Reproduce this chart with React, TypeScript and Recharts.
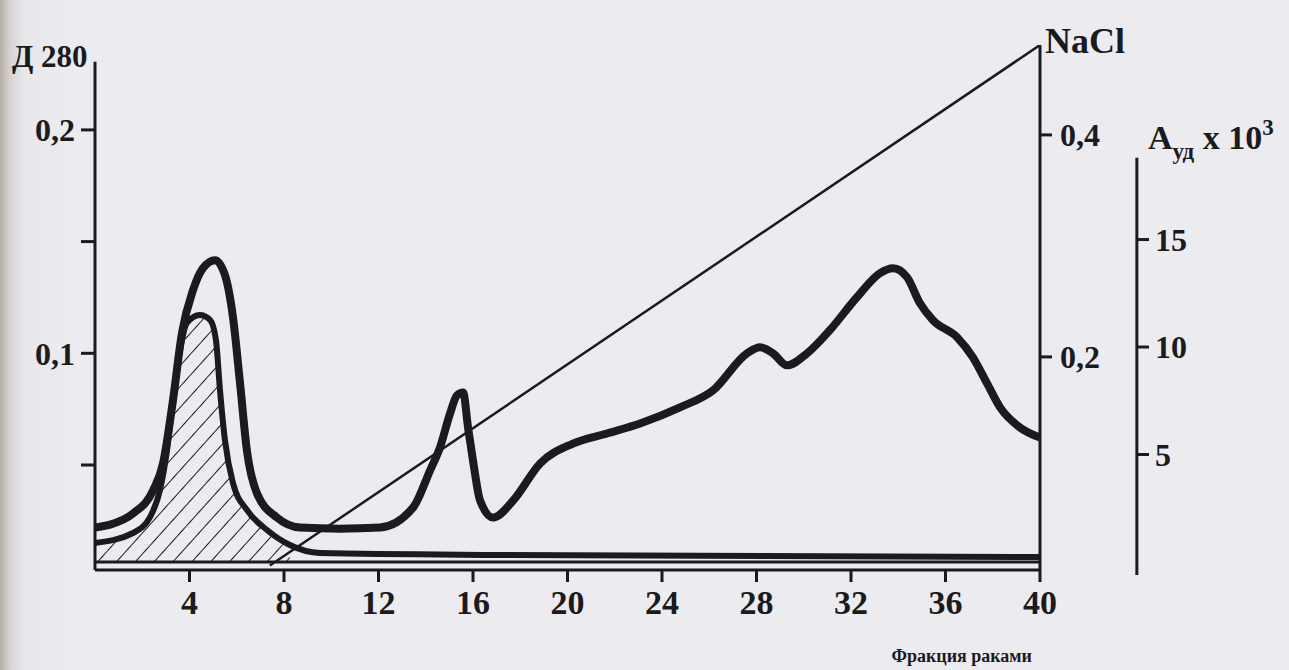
import { ComposedChart, Line, Area, XAxis, YAxis, ReferenceLine } from 'recharts';

// fraction numbers on the x axis
const fractionTicks = [4, 8, 12, 16, 20, 24, 28, 32, 36, 40];

// Д280 (protein) profile
const d280Fractions = [
  0, 0.63, 1.61, 2.46, 2.88, 3.3, 3.68, 4.15, 4.57, 5.08, 5.5, 5.84, 6.14, 6.43, 6.86, 7.7, 8.68,
  10.37, 12.06, 13.46, 14.18, 14.6, 15.03, 15.32, 15.58, 15.79, 16.0, 16.3, 16.85, 17.7, 18.84,
  20.23, 21.67, 23.07, 24.76, 26.16, 27.6, 28.15, 28.7, 29.29, 30.14, 31.1, 32.25, 33.23, 33.78,
  34.37, 34.92, 35.47, 36.49, 37.16, 37.76, 38.31, 39.15, 40,
];
const d280Values = [
  0.022, 0.0233, 0.0283, 0.0386, 0.0507, 0.0789, 0.109, 0.1283, 0.1381, 0.1417, 0.135, 0.1161,
  0.0865, 0.0565, 0.0372, 0.0265, 0.022, 0.0215, 0.022, 0.0309, 0.0475, 0.0578, 0.0731, 0.0812,
  0.0825, 0.0668, 0.052, 0.0341, 0.0265, 0.0341, 0.0507, 0.0596, 0.0641, 0.0686, 0.0758, 0.0834,
  0.1, 0.1027, 0.1, 0.0946, 0.1, 0.1103, 0.1251, 0.1359, 0.1381, 0.1341, 0.1224, 0.1148, 0.1072,
  0.0982, 0.0865, 0.0758, 0.0668, 0.0623,
];
const d280Ticks = [0.05, 0.1, 0.15, 0.2];
const d280TickLabels = ['', '0,1', '', '0,2'];

// specific activity, A x 10^3
const activityFractions = [0, 1.61, 2.33, 2.75, 3.05, 3.3, 3.6, 3.89, 4.44, 4.87, 5.12, 5.29, 5.5, 5.84, 6.43, 7.28, 8.25, 9.52, 17.14, 40];
const activityValues = [0.88, 1.35, 2.09, 3.35, 5.21, 7.53, 9.86, 11.12, 11.49, 11.26, 10.33, 8.0, 5.67, 3.67, 2.42, 1.49, 0.79, 0.42, 0.33, 0.23];
const activityTicks = [5, 10, 15];
const hatchUpTo = 9.5;

// NaCl gradient
const naclFractions = [7.4, 40];
const naclValues = [0.012, 0.481];
const naclTicks = [0.2, 0.4];
const naclTickLabels = ['0,2', '0,4'];

const zip = (fs: number[], vs: number[]) => fs.map((f, i) => ({ f, v: vs[i] }));
const d280Data = zip(d280Fractions, d280Values);
const activityData = zip(activityFractions, activityValues);
const hatchData = activityData.filter((p) => p.f <= hatchUpTo);
const naclData = zip(naclFractions, naclValues);

const INK = '#1b1b1d';
const SERIF = '"Liberation Serif", "Times New Roman", serif';
const tickFont = { fontFamily: SERIF, fontWeight: 700, fontSize: 32, fill: INK };
const xTickFont = { ...tickFont, fontSize: 34 };
const axisStroke = { stroke: INK, strokeWidth: 3 };

const D280Title = ({ viewBox }: any) => (
  <text x={viewBox.x + 12} y={viewBox.y + 22} fontFamily={SERIF} fontWeight={700} fontSize={31} fill={INK}>
    Д 280
  </text>
);

const NaclTitle = ({ viewBox }: any) => (
  <text x={viewBox.x + 5} y={viewBox.y + 8} fontFamily={SERIF} fontWeight={700} fontSize={36} fill={INK}>
    NaCl
  </text>
);

const ActivityTitle = ({ viewBox }: any) => (
  <text x={viewBox.x + 11} y={viewBox.y + 104} fontFamily={SERIF} fontWeight={700} fontSize={34} fill={INK}>
    A
    <tspan dy={10} fontSize={23}>уд</tspan>
    <tspan dy={-10}> x 10</tspan>
    <tspan dy={-14} fontSize={23}>3</tspan>
  </text>
);

const FractionTitle = ({ viewBox }: any) => (
  <text x={viewBox.x + viewBox.width - 8} y={viewBox.y + 92} textAnchor="end" fontFamily={SERIF} fontWeight={700} fontSize={18} fill={INK}>
    Фракция раками
  </text>
);

export default function App() {
  return (
    <div
      style={{
        position: 'absolute',
        left: 0,
        top: 0,
        width: 1289,
        height: 670,
        overflow: 'hidden',
        background: 'linear-gradient(to right, #b3aca5 0px, #d6d3d3 10px, #e8e7eb 24px, #ecebf0 70px)',
      }}
    >
      <ComposedChart width={1289} height={670} margin={{ top: 45, right: 0, bottom: 0, left: 0 }}>
        <defs>
          <pattern id="hatch" width={14} height={14} patternUnits="userSpaceOnUse" patternTransform="rotate(42)">
            <line x1={0} y1={0} x2={0} y2={14} stroke={INK} strokeWidth={2} />
          </pattern>
        </defs>
        <XAxis
          dataKey="f"
          type="number"
          domain={[0, 40]}
          ticks={fractionTicks}
          allowDataOverflow
          height={100}
          tickSize={12}
          tickMargin={8}
          tick={xTickFont}
          tickLine={axisStroke}
          axisLine={axisStroke}
          label={FractionTitle}
        />
        <YAxis
          yAxisId="d"
          orientation="left"
          width={95}
          domain={[0.003, 0.238]}
          allowDataOverflow
          ticks={d280Ticks}
          tickFormatter={(v: number) => d280TickLabels[d280Ticks.indexOf(v)] ?? ''}
          tickSize={14}
          tickMargin={6}
          tick={tickFont}
          tickLine={axisStroke}
          axisLine={false}
          label={D280Title}
        />
        <YAxis
          yAxisId="n"
          orientation="right"
          width={97}
          domain={[0.008, 0.481]}
          allowDataOverflow
          ticks={naclTicks}
          tickFormatter={(v: number) => naclTickLabels[naclTicks.indexOf(v)] ?? ''}
          tickSize={12}
          tickMargin={8}
          tick={tickFont}
          tickLine={axisStroke}
          axisLine={axisStroke}
          label={NaclTitle}
        />
        <YAxis
          yAxisId="u"
          orientation="right"
          width={152}
          domain={[-0.372, 24.05]}
          allowDataOverflow
          ticks={activityTicks}
          tickSize={12}
          tickMargin={6}
          tick={tickFont}
          tickLine={axisStroke}
          axisLine={false}
          label={ActivityTitle}
        />
        {/* hand-drawn axis lines that do not span the full plot height */}
        <ReferenceLine
          yAxisId="d"
          segment={[{ x: 0, y: 0.003 }, { x: 0, y: 0.2305 }]}
          ifOverflow="visible"
          stroke={INK}
          strokeWidth={3}
        />
        <ReferenceLine
          yAxisId="u"
          segment={[{ x: 44.1, y: -0.6 }, { x: 44.1, y: 18.8 }]}
          ifOverflow="visible"
          stroke={INK}
          strokeWidth={3}
        />
        <ReferenceLine yAxisId="u" y={0} stroke={INK} strokeWidth={3} />
        <Area
          yAxisId="u"
          data={hatchData}
          dataKey="v"
          type="monotone"
          baseValue={0}
          stroke="none"
          fill="url(#hatch)"
          fillOpacity={1}
          isAnimationActive={false}
        />
        <Line
          yAxisId="n"
          data={naclData}
          dataKey="v"
          type="linear"
          stroke={INK}
          strokeWidth={2.5}
          dot={false}
          isAnimationActive={false}
        />
        <Line
          yAxisId="u"
          data={activityData}
          dataKey="v"
          type="monotone"
          stroke={INK}
          strokeWidth={6}
          dot={false}
          isAnimationActive={false}
        />
        <Line
          yAxisId="d"
          data={d280Data}
          dataKey="v"
          type="monotone"
          stroke={INK}
          strokeWidth={8}
          dot={false}
          isAnimationActive={false}
        />
      </ComposedChart>
    </div>
  );
}
